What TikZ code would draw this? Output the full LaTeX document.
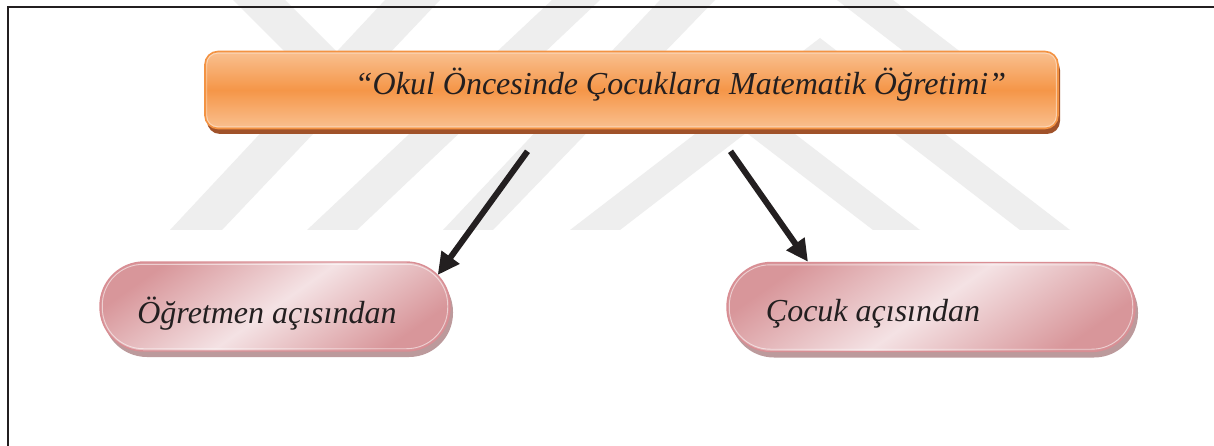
\documentclass[tikz,border=0pt]{standalone}
\usepackage{fontspec}
\setmainfont{Liberation Serif}
\usetikzlibrary{arrows.meta,shadows}

\definecolor{ink}{HTML}{231F20}
\definecolor{wm}{HTML}{EEEEEE}
\definecolor{orEdge}{HTML}{F39343}
\definecolor{orLight}{HTML}{F9C090}
\definecolor{orMid}{HTML}{F59648}
\definecolor{orShadow}{HTML}{A0522A}
\definecolor{pkEdge}{HTML}{D98E94}
\definecolor{pkDark}{HTML}{D8969A}
\definecolor{pkLight}{HTML}{F4E2E4}
\definecolor{pkShadow}{HTML}{BC9A9C}

\tikzset{
  frameline/.style={draw=ink, line width=2.2pt},
  band/.style={fill=wm, draw=none},
  titlebox/.style={draw=orEdge, line width=1.6pt, rounded corners=13pt,
    top color=orLight, bottom color=orLight, middle color=orMid,
    minimum width=853pt, minimum height=77pt, inner sep=0pt,
    drop shadow={shadow xshift=2pt, shadow yshift=-5.5pt, fill=orShadow, opacity=1}},
  pill/.style={draw=pkEdge, line width=1.4pt, rounded corners=44pt,
    shading=axis, left color=pkDark, right color=pkDark, middle color=pkLight,
    shading angle=35, minimum height=89pt, inner sep=0pt,
    drop shadow={shadow xshift=3pt, shadow yshift=-6pt, fill=pkShadow, opacity=1}},
  label/.style={font=\fontsize{32}{38}\selectfont\itshape, text=ink, inner sep=0pt, anchor=base},
  arr/.style={draw=ink, line width=6pt, -{Triangle[length=22pt,width=21pt]}},
  hl/.style={draw=white, line width=0.9pt, opacity=0.55}
}

\begin{document}
\begin{tikzpicture}[x=1pt,y=-1pt]
\useasboundingbox (0,0) rectangle (1214,446);
\fill[white] (0,0) rectangle (1214,446);

% faint chevron watermark behind the diagram
\begin{scope}
  \clip (0,0) rectangle (1214,230);
  \fill[band] (233,0) -- (285,0) -- (345,60) -- (293,60) -- cycle;
  \fill[band] (385,0) -- (440,0) -- (222,230) -- (170,230) -- cycle;
  \fill[band] (552,0) -- (600,0) -- (357,230) -- (307,230) -- cycle;
  \fill[band] (660,0) -- (715,0) -- (493,230) -- (443,230) -- cycle;
  \fill[band] (640,51) -- (687,51) -- (920,230) -- (873,230) -- cycle;
  \fill[band] (570,230) -- (820,38) -- (1070,230) -- (1020,230) -- (820,76) -- (620,230) -- cycle;
  \fill[band] (837,0) -- (893,0) -- (1023,100) -- (967,100) -- cycle;
\end{scope}

% page frame
\draw[frameline] (8,446) -- (8,7) -- (1214,7);

% title box
\node[titlebox] (top) at (631.5,90) {};
\draw[hl, draw=white!70!orLight, rounded corners=11pt]
  ([shift={(2.5pt,-2.5pt)}]top.north west) rectangle ([shift={(-2.5pt,2.5pt)}]top.south east);
\node[label] (ttl) at (680.5,95) {“Okul Öncesinde Çocuklara Matematik Öğretimi”};

% the two viewpoints
\node[pill, minimum width=350pt] (lft) at (275,306.5) {};
\draw[hl, rounded corners=41pt]
  ([shift={(3pt,-3pt)}]lft.north west) rectangle ([shift={(-3pt,3pt)}]lft.south east);
\node[label] (lftt) at (267,323) {Öğretmen açısından};

\node[pill, minimum width=408pt] (rgt) at (931,307) {};
\draw[hl, rounded corners=41pt]
  ([shift={(3pt,-3pt)}]rgt.north west) rectangle ([shift={(-3pt,3pt)}]rgt.south east);
\node[label] (rgtt) at (873,321) {Çocuk açısından};

% arrows from the title to each viewpoint
\draw[arr] ([xshift=-104pt,yshift=-22pt]top.south) -- ([xshift=-13pt,yshift=31.5pt]lft.east);
\draw[arr] ([xshift=99pt,yshift=-22pt]top.south) -- ([xshift=-123pt]rgt.north);
\end{tikzpicture}
\end{document}
